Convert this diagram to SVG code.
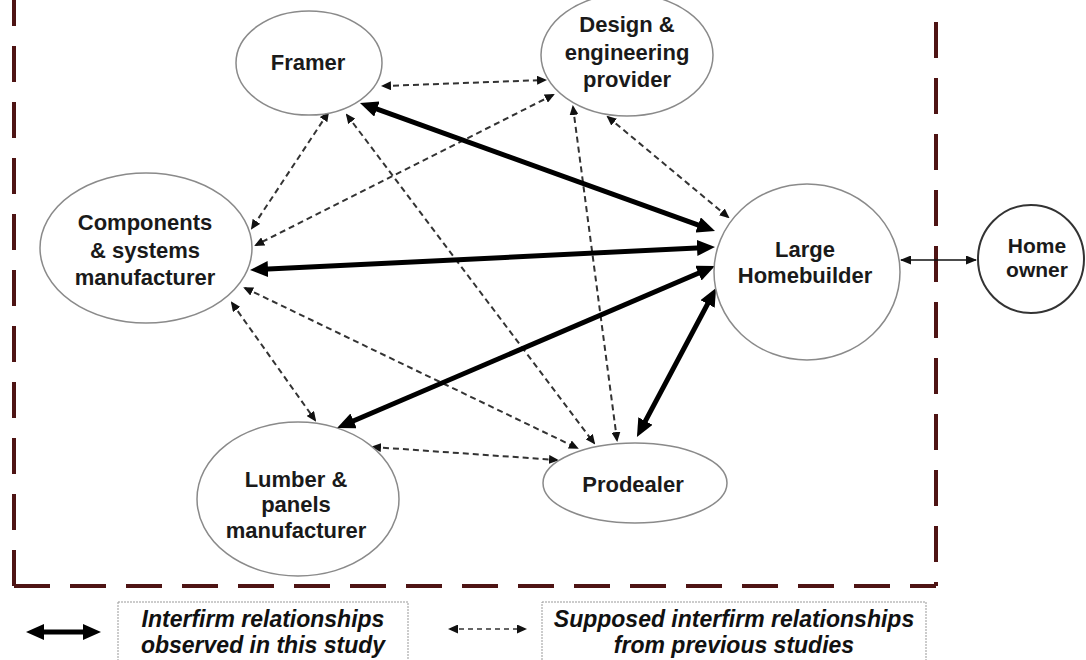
<svg xmlns="http://www.w3.org/2000/svg" width="1086" height="660" viewBox="0 0 1086 660">
<style>
.node{fill:#fff;stroke:#8a8a8a;stroke-width:1.5}
.lbl{font-family:"Liberation Sans",Arial,sans-serif;font-weight:bold;font-size:22px;fill:#1a1a1a;text-anchor:middle}
.thick{stroke:#000;stroke-width:5;fill:none;marker-start:url(#bigA);marker-end:url(#bigA)}
.dash{stroke:#333;stroke-width:2;stroke-dasharray:6 4;fill:none;marker-start:url(#smA);marker-end:url(#smA)}
.border{stroke:#4e1414;stroke-width:4;fill:none;stroke-dasharray:36 20}
.leg{font-family:"Liberation Sans",Arial,sans-serif;font-weight:bold;font-style:italic;font-size:23px;fill:#111;text-anchor:middle}
.legbox{fill:#fff;stroke:#999;stroke-width:1;stroke-dasharray:2 1}
</style>
<defs>
<marker id="bigA" viewBox="0 0 18 16" refX="10" refY="8" markerWidth="18" markerHeight="16" markerUnits="userSpaceOnUse" orient="auto-start-reverse"><path d="M0,0 L18,8 L0,16 z" fill="#000"/></marker>
<marker id="smA" viewBox="0 0 10 9" refX="8" refY="4.5" markerWidth="10" markerHeight="9" markerUnits="userSpaceOnUse" orient="auto-start-reverse"><path d="M0,0 L10,4.5 L0,9 z" fill="#111"/></marker>
<marker id="hoA" viewBox="0 0 11 9" refX="10" refY="4.5" markerWidth="11" markerHeight="9" markerUnits="userSpaceOnUse" orient="auto-start-reverse"><path d="M0,0 L11,4.5 L0,9 z" fill="#111"/></marker>
</defs>
<rect width="1086" height="660" fill="#fff"/>
<g id="boundary">
<line class="border" x1="14" y1="586" x2="14" y2="0"/>
<line class="border" x1="14" y1="586" x2="936" y2="586"/>
<line class="border" x1="936" y1="22" x2="936" y2="586"/>
</g>
<g id="connectors">
<line class="dash" x1="383" y1="86" x2="545" y2="80"/>
<line class="dash" x1="328" y1="113" x2="252" y2="228"/>
<line class="dash" x1="347" y1="115" x2="594" y2="443"/>
<line class="dash" x1="553" y1="95" x2="256" y2="245"/>
<line class="dash" x1="573" y1="107" x2="617" y2="440"/>
<line class="dash" x1="608" y1="117" x2="728" y2="217"/>
<line class="dash" x1="232" y1="303" x2="315" y2="420"/>
<line class="dash" x1="245" y1="288" x2="577" y2="448"/>
<line class="dash" x1="373" y1="447" x2="557" y2="460"/>
<line class="thick" x1="367.5" y1="105.7" x2="707.5" y2="228.3"/>
<line class="thick" x1="258" y1="269.6" x2="707" y2="247.4"/>
<line class="thick" x1="344.4" y1="424.8" x2="707.6" y2="269.2"/>
<line class="thick" x1="640.7" y1="429.9" x2="712.3" y2="295.1"/>
<line x1="901" y1="260" x2="976" y2="260" stroke="#111" stroke-width="1.5" marker-start="url(#hoA)" marker-end="url(#hoA)"/>
</g>
<g id="framer"><ellipse class="node" cx="309" cy="63" rx="73" ry="52"/><text class="lbl" x="308" y="70">Framer</text></g>
<g id="design"><ellipse class="node" cx="627" cy="55" rx="86" ry="61"/><text class="lbl" x="627" y="32">Design &amp;</text><text class="lbl" x="627" y="60">engineering</text><text class="lbl" x="627" y="87">provider</text></g>
<g id="components"><ellipse class="node" cx="146" cy="248" rx="106" ry="75"/><text class="lbl" x="145" y="230">Components</text><text class="lbl" x="145" y="258">&amp; systems</text><text class="lbl" x="145" y="285">manufacturer</text></g>
<g id="homebuilder"><ellipse class="node" cx="807" cy="272" rx="93" ry="88"/><text class="lbl" x="805" y="257">Large</text><text class="lbl" x="805" y="283">Homebuilder</text></g>
<g id="homeowner"><ellipse cx="1031" cy="259" rx="53" ry="54" fill="#fff" stroke="#333" stroke-width="2"/><text class="lbl" x="1037" y="253" style="font-size:21px">Home</text><text class="lbl" x="1037" y="277" style="font-size:21px">owner</text></g>
<g id="lumber"><ellipse class="node" cx="298" cy="499" rx="101" ry="77"/><text class="lbl" x="296" y="487">Lumber &amp;</text><text class="lbl" x="296" y="512">panels</text><text class="lbl" x="296" y="538">manufacturer</text></g>
<g id="prodealer"><ellipse class="node" cx="635" cy="483" rx="92" ry="40"/><text class="lbl" x="633" y="492">Prodealer</text></g>
<g id="legend">
<line x1="34" y1="632" x2="93" y2="632" stroke="#000" stroke-width="5" marker-start="url(#bigA)" marker-end="url(#bigA)"/>
<rect class="legbox" x="118" y="602" width="290" height="62"/>
<text class="leg" x="263" y="627">Interfirm relationships</text>
<text class="leg" x="263" y="653">observed in this study</text>
<line x1="450" y1="629" x2="525" y2="629" stroke="#333" stroke-width="1.5" stroke-dasharray="5 4" marker-start="url(#smA)" marker-end="url(#smA)"/>
<rect class="legbox" x="542" y="602" width="384" height="62"/>
<text class="leg" x="734" y="627">Supposed interfirm relationships</text>
<text class="leg" x="734" y="653">from previous studies</text>
</g>
</svg>
